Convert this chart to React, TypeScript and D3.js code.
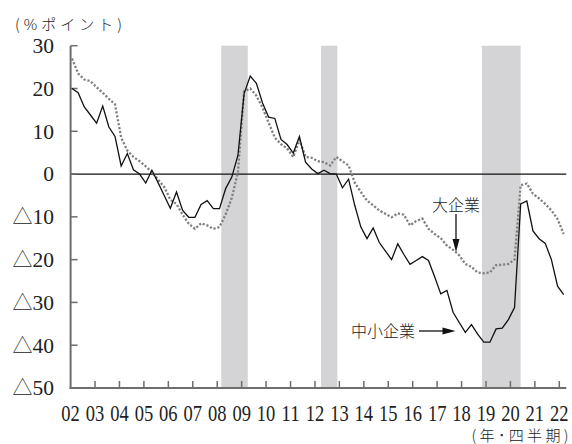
import React from "react";
import * as d3 from "d3";

// 中小企業 (solid) quarterly, 2002Q1 .. 2022Q1
const smallFirms: number[] = [
  20, 19, 15.7, 13.8, 11.9, 15.9, 11, 8.8, 1.9, 4.8, 1, 0, -2.1, 0.9, -2, -5,
  -8, -4.2, -8.5, -10.1, -10.1, -7.1, -6.2, -8.1, -8.1, -3.4, -0.7, 4.4, 18.8, 22.9, 21.2, 16.6,
  13.3, 13, 8.1, 6.9, 4.9, 8.8, 2.8, 1.2, 0.1, 0.9, 0.1, 0, -3.2, -1.2, -7.3, -12.4,
  -15.1, -12.6, -16, -18, -20, -16.3, -18.8, -21.1, -20.2, -19.3, -20.2, -24, -28, -27.2, -32.3, -34.7,
  -37, -35.2, -37.4, -39.3, -39.3, -36.2, -36, -34, -31.2, -7, -6.3, -13.3, -15.1, -16.2, -20, -26.2,
  -28.2,
];

// 大企業 (dashed) quarterly, 2002Q1 .. 2022Q1
const largeFirms: number[] = [
  27, 23.5, 22.1, 21.7, 20.3, 19, 17.6, 16.3, 8.5, 5.5, 4, 3, 1.8, 0.5, -1.3, -3,
  -6, -7, -9.5, -11.6, -12.8, -11.5, -12, -12.8, -12.4, -9.4, -5.6, 0.5, 19.3, 20, 18.3, 15.5,
  12, 8.5, 7, 6, 4, 8, 4, 3.8, 3, 2.8, 2, 4, 3, 2, -2, -4.2,
  -6.2, -7.3, -8.5, -9.3, -10.1, -9.2, -9.5, -12, -11, -10.4, -12.8, -14, -15, -16.7, -17.7, -19,
  -21, -21.7, -23, -23.2, -23, -21.3, -21.2, -21, -20, -2.6, -2.2, -4.6, -5.7, -7, -8.5, -10.5,
  -14,
];

const yearTicks: number[] = [2002, 2003, 2004, 2005, 2006, 2007, 2008, 2009, 2010, 2011, 2012, 2013, 2014, 2015, 2016, 2017, 2018, 2019, 2020, 2021, 2022];
const yearLabels: string[] = ["02", "03", "04", "05", "06", "07", "08", "09", "10", "11", "12", "13", "14", "15", "16", "17", "18", "19", "20", "21", "22"];
const yTicks: number[] = [30, 20, 10, 0, -10, -20, -30, -40, -50];

// 景気後退期 (shaded)
const recessionStart: number[] = [2008.167, 2012.25, 2018.833];
const recessionEnd: number[] = [2009.25, 2012.917, 2020.417];

const seriesLabelLarge = "大企業";
const seriesLabelSmall = "中小企業";
const unitLabel = "(%ポイント)";
const xUnitLabel = "(年･四半期)";

const W = 572;
const H = 444;

export default function App() {
  const xYear = d3.scaleLinear().domain([2002, 2022]).range([70.6, 559.3]);
  const xQ = d3.scaleLinear().domain([0, smallFirms.length - 1]).range([72, 563.7]);
  const y = d3.scaleLinear().domain([-50, 30]).range([388, 45.7]);

  const line = d3
    .line<number>()
    .x((_, i) => xQ(i))
    .y((d) => y(d));

  const axisColor = "#6e6e6e";
  const serif = "'Liberation Serif', 'Times New Roman', 'DejaVu Serif', serif";
  const cjk = "'Noto Sans CJK JP', 'Noto Sans', sans-serif";

  const x0 = xYear(2002);
  const xEnd = 566.3;
  const yTop = y(30);
  const yBot = y(-50);

  const largeArrowX = 456;
  const largeTipY = 252;
  const smallArrowY = 331;
  const smallTipX = 455.5;

  return (
    <svg
      width={W}
      height={H}
      style={{ position: "absolute", left: 0, top: 0, background: "#fff" }}
    >
      <rect x={0} y={0} width={W} height={H} fill="#fff" />
      {recessionStart.map((s, i) => (
        <rect
          key={"r" + i}
          x={xYear(s)}
          y={yTop}
          width={xYear(recessionEnd[i]) - xYear(s)}
          height={yBot - yTop}
          fill="#d4d4d6"
        />
      ))}

      <line x1={x0} x2={xEnd} y1={y(0)} y2={y(0)} stroke="#111" strokeWidth={1.2} />

      <line x1={x0} x2={x0} y1={yTop} y2={yBot + 1} stroke={axisColor} strokeWidth={2} />
      <line x1={x0 - 1} x2={xEnd} y1={yBot} y2={yBot} stroke={axisColor} strokeWidth={2} />
      {yTicks.map((t) => (
        <line key={"yt" + t} x1={x0} x2={x0 + 7} y1={y(t)} y2={y(t)} stroke={axisColor} strokeWidth={1.5} />
      ))}
      {yearTicks.slice(1).map((t) => (
        <line key={"xt" + t} x1={xYear(t)} x2={xYear(t)} y1={yBot} y2={yBot - 7} stroke={axisColor} strokeWidth={1.5} />
      ))}

      {yTicks.map((t) => (
        <text
          key={"yl" + t}
          x={54}
          y={y(t) + 7.3}
          textAnchor="end"
          style={{ fontFamily: serif, fontSize: "21.5px" }}
          fill="#222"
        >
          {t < 0 ? (
            <>
              <tspan style={{ fontFamily: cjk, fontSize: "20px", fontWeight: 300 }}>△</tspan>
              <tspan>{Math.abs(t)}</tspan>
            </>
          ) : (
            String(t)
          )}
        </text>
      ))}

      {yearTicks.map((t, i) => (
        <text
          key={"xl" + t}
          x={xYear(t)}
          y={420.5}
          textAnchor="middle"
          style={{ fontFamily: serif, fontSize: "23px" }}
          textLength={18.5}
          lengthAdjust="spacingAndGlyphs"
          fill="#222"
        >
          {yearLabels[i]}
        </text>
      ))}

      <path
        d={line(largeFirms) || ""}
        fill="none"
        stroke="#808080"
        strokeWidth={2.3}
        strokeDasharray="2.2 1.8"
      />
      <path d={line(smallFirms) || ""} fill="none" stroke="#111" strokeWidth={1.3} strokeLinejoin="miter" />

      <text x={largeArrowX} y={210.5} textAnchor="middle" style={{ fontFamily: cjk, fontSize: "16px", fontWeight: 300 }} fill="#222">
        {seriesLabelLarge}
      </text>
      <line x1={largeArrowX} x2={largeArrowX} y1={214} y2={241} stroke="#111" strokeWidth={1.3} />
      <path
        d={`M${largeArrowX},${largeTipY} L${largeArrowX - 3.5},${largeTipY - 13} L${largeArrowX + 3.5},${largeTipY - 13} Z`}
        fill="#111"
      />

      <text x={351} y={337} textAnchor="start" style={{ fontFamily: cjk, fontSize: "16px", fontWeight: 300 }} fill="#222">
        {seriesLabelSmall}
      </text>
      <line x1={419} x2={444} y1={smallArrowY} y2={smallArrowY} stroke="#111" strokeWidth={1.3} />
      <path
        d={`M${smallTipX},${smallArrowY} L${smallTipX - 13},${smallArrowY - 3.5} L${smallTipX - 13},${smallArrowY + 3.5} Z`}
        fill="#111"
      />

      <text x={15} y={30} style={{ fontFamily: cjk, fontSize: "15px", fontWeight: 300 }} textLength={107} lengthAdjust="spacing" fill="#222">
        {unitLabel}
      </text>
      <text x={471.5} y={440.5} style={{ fontFamily: cjk, fontSize: "15px", fontWeight: 300 }} textLength={97} lengthAdjust="spacing" fill="#222">
        {xUnitLabel}
      </text>
    </svg>
  );
}
